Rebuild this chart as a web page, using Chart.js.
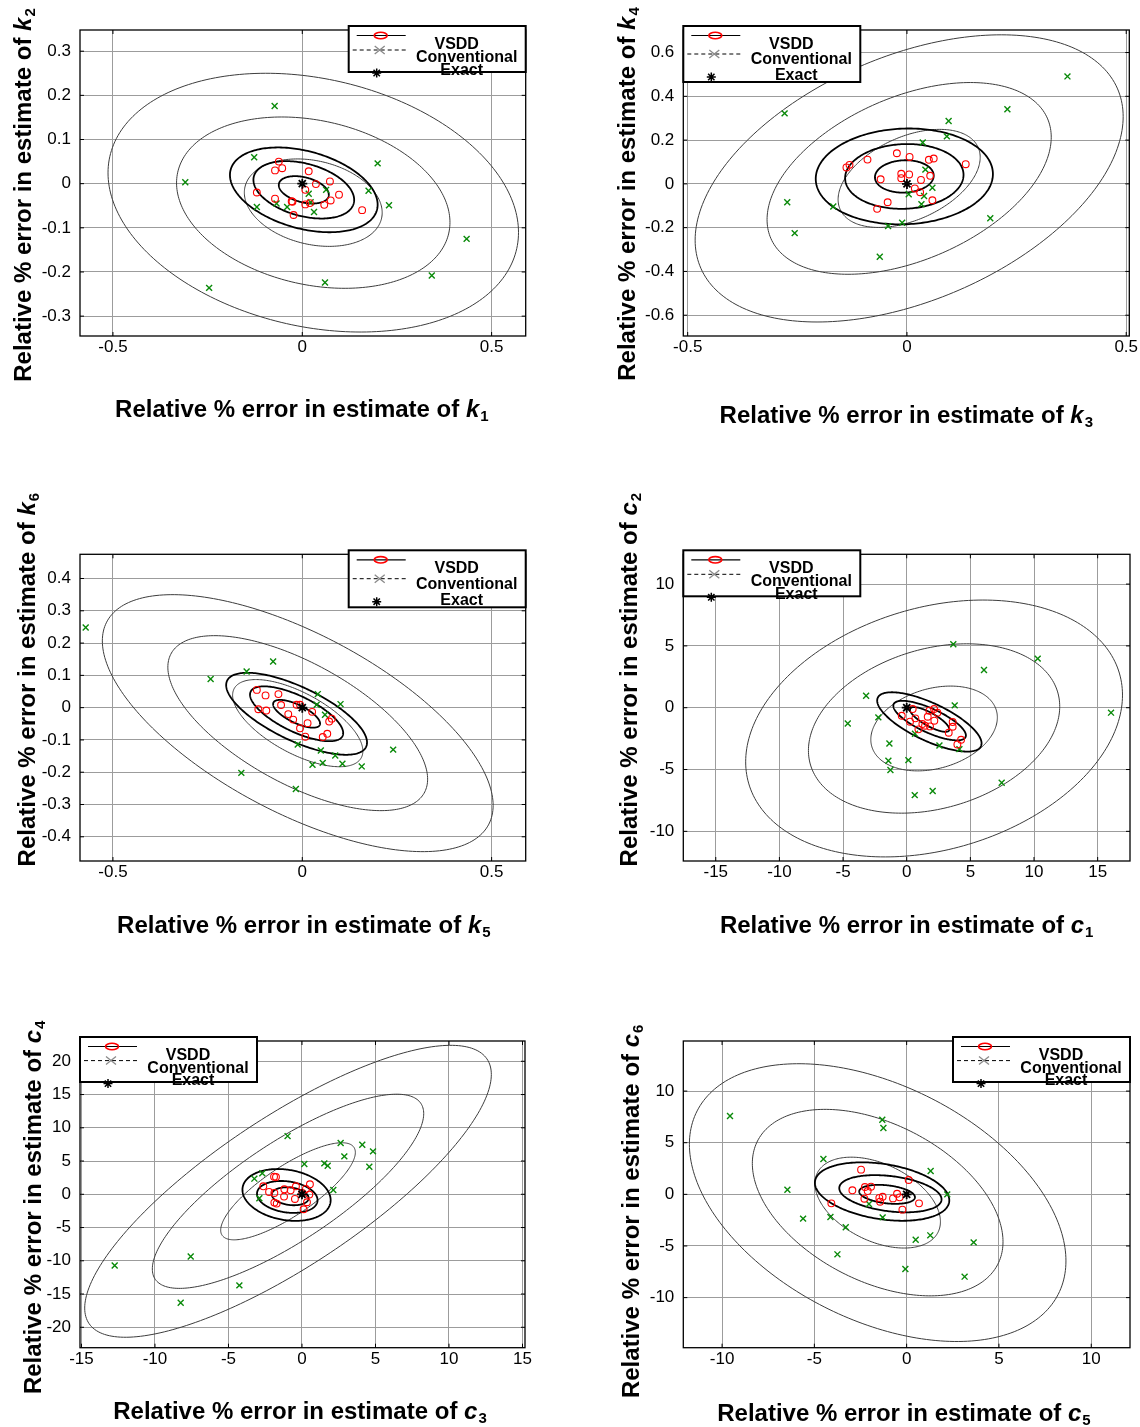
<!DOCTYPE html>
<html>
<head>
<meta charset="utf-8">
<title>Estimate error scatter</title>
<script src="https://cdn.jsdelivr.net/npm/chart.js@4.4.1/dist/chart.umd.min.js"></script>
<style>
  html, body { margin: 0; padding: 0; background: #fff; }
  #page { position: relative; width: 1140px; height: 1427px; overflow: hidden; }
  #page canvas { position: absolute; }
</style>
</head>
<body>
<div id="page"></div>
<script>
// ============================================================================
// DATA  (relative % errors; ellipses are [cx, cy, half-width x, half-height y, corr])
// ============================================================================

const exactPoint = [[0, 0]];

// --- k1 vs k2 ---
const k1Ticks = [-0.5, 0, 0.5];
const k2Ticks = [-0.3, -0.2, -0.1, 0, 0.1, 0.2, 0.3];
const vsddK1K2 = [[-0.062, 0.050], [-0.072, 0.030], [-0.053, 0.035], [0.017, 0.028], [0.036, -0.001],
  [0.073, 0.005], [0.008, -0.014], [-0.120, -0.020], [-0.072, -0.034], [-0.028, -0.040], [-0.026, -0.041],
  [-0.023, -0.071], [0.008, -0.047], [0.020, -0.044], [0.058, -0.048], [0.075, -0.038], [0.097, -0.025],
  [0.158, -0.060]];
const convK1K2 = [[-0.073, 0.176], [-0.127, 0.060], [-0.309, 0.003], [0.199, 0.046], [0.175, -0.016],
  [0.229, -0.049], [0.434, -0.125], [0.342, -0.208], [0.060, -0.224], [-0.246, -0.236], [-0.120, -0.053],
  [-0.068, -0.045], [-0.040, -0.053], [0.017, -0.023], [0.022, -0.042], [0.031, -0.064], [0.063, -0.014]];
const vsddEllK1K2 = [[0.004, -0.014, 0.066, 0.031, -0.35], [0.004, -0.014, 0.133, 0.065, -0.35], [0.004, -0.014, 0.195, 0.096, -0.35]];
const convEllK1K2 = [[0.029, -0.043, 0.182, 0.099, -0.23], [0.029, -0.043, 0.361, 0.194, -0.23], [0.029, -0.043, 0.542, 0.293, -0.23]];

// --- k3 vs k4 ---
const k3Ticks = [-0.5, 0, 0.5];
const k4Ticks = [-0.6, -0.4, -0.2, 0, 0.2, 0.4, 0.6];
const vsddK3K4 = [[-0.138, 0.075], [-0.131, 0.087], [-0.090, 0.111], [-0.023, 0.140], [0.006, 0.123],
  [0.050, 0.110], [0.061, 0.116], [0.134, 0.090], [-0.013, 0.046], [0.005, 0.043], [-0.013, 0.026],
  [-0.060, 0.021], [0.032, 0.018], [0.053, 0.037], [0.018, -0.021], [0.030, -0.038], [0.058, -0.075],
  [-0.044, -0.084], [-0.068, -0.114]];
const convK3K4 = [[-0.279, 0.322], [0.366, 0.491], [0.229, 0.341], [0.095, 0.287], [0.091, 0.217],
  [0.036, 0.189], [0.042, 0.065], [0.058, -0.018], [0.039, -0.055], [0.004, -0.047], [0.033, -0.093],
  [-0.273, -0.084], [-0.168, -0.103], [-0.256, -0.225], [-0.043, -0.193], [-0.011, -0.178], [0.190, -0.157],
  [-0.062, -0.333]];
const vsddEllK3K4 = [[-0.006, 0.034, 0.067, 0.074, 0.05], [-0.006, 0.034, 0.135, 0.148, 0.05], [-0.006, 0.034, 0.202, 0.219, 0.05]];
const convEllK3K4 = [[0.005, 0.025, 0.162, 0.224, 0.43], [0.005, 0.025, 0.324, 0.438, 0.43], [0.005, 0.025, 0.488, 0.656, 0.43]];

// --- k5 vs k6 ---
const k5Ticks = [-0.5, 0, 0.5];
const k6Ticks = [-0.4, -0.3, -0.2, -0.1, 0, 0.1, 0.2, 0.3, 0.4];
const vsddK5K6 = [[-0.120, 0.055], [-0.097, 0.038], [-0.063, 0.042], [-0.056, 0.008], [-0.116, -0.005],
  [-0.095, -0.009], [-0.015, 0.009], [-0.006, 0.009], [-0.037, -0.020], [-0.024, -0.037], [0.026, -0.013],
  [0.014, -0.048], [-0.006, -0.064], [0.008, -0.090], [0.054, -0.091], [0.066, -0.081], [0.071, -0.043],
  [0.078, -0.034]];
const convK5K6 = [[-0.572, 0.248], [-0.077, 0.143], [-0.147, 0.112], [-0.242, 0.089], [0.041, 0.042],
  [0.101, 0.011], [0.038, 0.009], [0.060, -0.022], [-0.012, -0.114], [0.049, -0.133], [0.087, -0.148],
  [0.240, -0.130], [0.027, -0.177], [0.054, -0.171], [0.106, -0.174], [0.157, -0.182], [-0.161, -0.202],
  [-0.017, -0.252]];
const vsddEllK5K6 = [[-0.015, -0.019, 0.062, 0.043, -0.7], [-0.015, -0.019, 0.123, 0.085, -0.7], [-0.015, -0.019, 0.186, 0.127, -0.7]];
const convEllK5K6 = [[-0.012, -0.048, 0.172, 0.135, -0.64], [-0.012, -0.048, 0.343, 0.271, -0.64], [-0.012, -0.048, 0.516, 0.398, -0.64]];

// --- c1 vs c2 ---
const c1Ticks = [-15, -10, -5, 0, 5, 10, 15];
const c2Ticks = [-10, -5, 0, 5, 10];
const vsddC1C2 = [[0.47, -0.11], [-0.39, -0.65], [0.68, -0.86], [0.26, -1.13], [1.23, -1.32], [1.44, -1.46],
  [0.92, -1.75], [1.65, -0.73], [1.78, -0.24], [2.15, -0.11], [2.41, -0.40], [2.17, -1.05], [1.83, -1.51],
  [3.61, -1.16], [3.61, -1.54], [3.30, -2.02], [4.27, -2.59], [3.98, -2.97]];
const convC1C2 = [[3.66, 5.13], [10.29, 3.97], [6.07, 3.05], [-3.19, 0.97], [3.77, 0.19], [-4.63, -1.27],
  [-2.23, -0.78], [16.05, -0.40], [0.65, -2.10], [-1.36, -2.89], [2.57, -3.05], [4.14, -3.35], [-1.44, -4.29],
  [0.13, -4.24], [-1.28, -5.04], [7.46, -6.07], [0.63, -7.07], [2.04, -6.74]];
const vsddEllC1C2 = [[1.8, -0.95, 1.55, 1.0, -0.8], [1.8, -1.04, 2.85, 1.6, -0.75], [1.78, -1.15, 4.1, 2.4, -0.72]];
const convEllC1C2 = [[2.15, -1.68, 4.97, 3.43, 0.26], [2.15, -1.68, 9.87, 6.85, 0.26], [2.15, -1.68, 14.8, 10.39, 0.26]];

// --- c3 vs c4 ---
const c3Ticks = [-15, -10, -5, 0, 5, 10, 15];
const c4Ticks = [-20, -15, -10, -5, 0, 5, 10, 15, 20];
const vsddC3C4 = [[-1.90, 2.65], [-1.77, 2.60], [-2.63, 1.20], [-2.24, 0.35], [-1.88, 0.20], [-1.20, 0.75],
  [-0.77, 0.60], [-0.41, 1.20], [-1.22, -0.35], [-0.48, -0.70], [-1.88, -1.25], [-1.72, -1.40], [0.11, -2.25],
  [0.34, -1.20], [0.50, -0.05], [0.27, 0.80], [0.54, 1.50], [0.02, 0.20]];
const convC3C4 = [[-0.98, 8.75], [2.63, 7.70], [4.10, 7.45], [4.83, 6.45], [2.88, 5.70], [0.16, 4.55],
  [1.52, 4.65], [1.75, 4.30], [4.58, 4.15], [-2.70, 3.15], [-3.24, 2.35], [2.13, 0.65], [-2.90, -0.60],
  [-7.57, -9.35], [-12.74, -10.70], [-4.26, -13.70], [-8.25, -16.30]];
const vsddEllC3C4 = [[-0.8, -0.3, 1.25, 1.35, -0.2], [-1.0, -0.4, 2.06, 2.4, -0.2], [-1.05, -0.1, 3.0, 3.9, -0.2]];
const convEllC3C4 = [[-0.95, 0.45, 4.58, 7.3, 0.8], [-0.95, 0.45, 9.23, 14.6, 0.8], [-0.95, 0.45, 13.83, 21.95, 0.8]];

// --- c5 vs c6 ---
const c5Ticks = [-10, -5, 0, 5, 10];
const c6Ticks = [-10, -5, 0, 5, 10];
const vsddC5C6 = [[-2.47, 2.39], [0.11, 1.39], [-2.94, 0.39], [-2.26, 0.71], [-1.93, 0.74], [-2.11, 0.32],
  [-2.29, -0.42], [-1.30, -0.23], [-1.48, -0.35], [-1.44, -0.71], [-0.74, -0.39], [-0.52, 0.06],
  [-0.38, -0.29], [-4.08, -0.87], [-0.23, -1.48], [0.67, -0.87]];
const convC5C6 = [[-9.57, 7.58], [-1.32, 7.23], [-1.26, 6.42], [-4.51, 3.42], [1.30, 2.26], [-6.46, 0.45],
  [2.20, 0.0], [-2.04, -0.94], [-1.30, -2.23], [-4.13, -2.19], [-5.61, -2.35], [-3.30, -3.19], [0.49, -4.39],
  [1.28, -3.97], [3.63, -4.65], [-3.75, -5.81], [-0.07, -7.23], [3.14, -7.97]];
const vsddEllC5C6 = [[-1.06, 0.0, 1.51, 0.92, -0.3], [-0.88, 0.06, 2.77, 1.8, -0.3], [-1.33, 0.27, 3.64, 2.83, -0.3]];
const convEllC5C6 = [[-1.57, -0.8, 3.4, 4.4, -0.42], [-1.57, -0.8, 6.79, 9.03, -0.42], [-1.57, -0.8, 10.2, 13.45, -0.42]];

// ============================================================================
// PANEL LAYOUT
// ============================================================================

const FONT = "'Liberation Sans', Arial, Helvetica, sans-serif";
const X_AXIS_H = 30;

const panels = [
  { box: [0, 0, 570, 460], plot: [80, 30, 525.7, 336], xRange: [-0.587, 0.59], yRange: [-0.345, 0.348],
    xTicks: k1Ticks, yTicks: k2Ticks, vsdd: vsddK1K2, conv: convK1K2, vsddEll: vsddEllK1K2, convEll: convEllK1K2,
    xName: ['k', '1'], yName: ['k', '2'], legend: { side: 'right', h: 46 },
    xTitle: { dx: -1, dy: 72 }, yTitle: { dx: -58, dy: 12 } },
  { box: [570, 0, 570, 460], plot: [683.3, 30, 1129.3, 336], xRange: [-0.51, 0.507], yRange: [-0.695, 0.703],
    xTicks: k3Ticks, yTicks: k4Ticks, vsdd: vsddK3K4, conv: convK3K4, vsddEll: vsddEllK3K4, convEll: convEllK3K4,
    xName: ['k', '3'], yName: ['k', '4'], legend: { side: 'left', h: 56 },
    xTitle: { dx: 0, dy: 78 }, yTitle: { dx: -57, dy: 11 } },
  { box: [0, 460, 570, 500], plot: [80, 554.3, 525.7, 861], xRange: [-0.587, 0.59], yRange: [-0.475, 0.475],
    xTicks: k5Ticks, yTicks: k6Ticks, vsdd: vsddK5K6, conv: convK5K6, vsddEll: vsddEllK5K6, convEll: convEllK5K6,
    xName: ['k', '5'], yName: ['k', '6'], legend: { side: 'right', h: 57 },
    xTitle: { dx: 1, dy: 63 }, yTitle: { dx: -54, dy: -28 } },
  { box: [570, 460, 570, 500], plot: [683.3, 554.3, 1130, 861], xRange: [-17.55, 17.54], yRange: [-12.4, 12.41],
    xTicks: c1Ticks, yTicks: c2Ticks, vsdd: vsddC1C2, conv: convC1C2, vsddEll: vsddEllC1C2, convEll: convEllC1C2,
    xName: ['c', '1'], yName: ['c', '2'], legend: { side: 'left', h: 46 },
    xTitle: { dx: 0, dy: 63 }, yTitle: { dx: -55, dy: -28 } },
  { box: [0, 960, 570, 467], plot: [80, 1041, 525, 1347.7], xRange: [-15.1, 15.17], yRange: [-23.07, 23.05],
    xTicks: c3Ticks, yTicks: c4Ticks, vsdd: vsddC3C4, conv: convC3C4, vsddEll: vsddEllC3C4, convEll: convEllC3C4,
    xName: ['c', '3'], yName: ['c', '4'], legend: { side: 'left', h: 45 },
    xTitle: { dx: -2.5, dy: 63 }, yTitle: { dx: -48, dy: 13 } },
  { box: [570, 960, 570, 467], plot: [683.3, 1041, 1130, 1347.7], xRange: [-12.1, 12.1], yRange: [-14.85, 14.85],
    xTicks: c5Ticks, yTicks: c6Ticks, vsdd: vsddC5C6, conv: convC5C6, vsddEll: vsddEllC5C6, convEll: convEllC5C6,
    xName: ['c', '5'], yName: ['c', '6'], legend: { side: 'right', h: 45 },
    xTitle: { dx: -2.7, dy: 65 }, yTitle: { dx: -53, dy: 17 } }
];

// ============================================================================
// DRAWING HELPERS
// ============================================================================

const toXY = arr => arr.map(([x, y]) => ({ x, y }));

function strokeEllipses(ctx, scales, list, color, width) {
  ctx.strokeStyle = color;
  ctx.lineWidth = width;
  for (const [cx, cy, w, h, r] of list) {
    const s = Math.sqrt(1 - r * r);
    ctx.beginPath();
    for (let i = 0; i <= 240; i++) {
      const t = (i / 240) * Math.PI * 2;
      const px = scales.x.getPixelForValue(cx + w * Math.cos(t));
      const py = scales.y.getPixelForValue(cy + h * (r * Math.cos(t) + s * Math.sin(t)));
      if (i === 0) ctx.moveTo(px, py); else ctx.lineTo(px, py);
    }
    ctx.closePath();
    ctx.stroke();
  }
}

function drawAxisTitle(ctx, cx, cy, name, sub, vertical) {
  const main = 'Relative % error in estimate of ';
  const mainFont = `bold 24px ${FONT}`;
  const nameFont = `italic bold 24px ${FONT}`;
  const subFont = `bold 15px ${FONT}`;
  ctx.save();
  ctx.font = mainFont; const w1 = ctx.measureText(main).width;
  ctx.font = nameFont; const w2 = ctx.measureText(name).width;
  ctx.font = subFont; const w3 = ctx.measureText(sub).width;
  const total = w1 + w2 + w3 + 1;
  ctx.translate(cx, cy);
  if (vertical) ctx.rotate(-Math.PI / 2);
  ctx.fillStyle = '#000';
  ctx.textAlign = 'left';
  ctx.textBaseline = 'alphabetic';
  const base = 8.5;
  let x = -total / 2;
  ctx.font = mainFont; ctx.fillText(main, x, base); x += w1;
  ctx.font = nameFont; ctx.fillText(name, x, base); x += w2 + 1;
  ctx.font = subFont; ctx.fillText(sub, x, base + 4);
  ctx.restore();
}

function drawLegend(ctx, L, T, H) {
  const W = 177;
  ctx.save();
  ctx.fillStyle = '#fff';
  ctx.fillRect(L, T, W, H);
  ctx.strokeStyle = '#000';
  ctx.lineWidth = 2;
  ctx.strokeRect(L, T, W, H);

  const extra = (H - 46) * 0.4;
  const r1 = T + 9.5, r2 = T + 24 + extra, r3 = T + 47 + extra;

  // VSDD: solid line with red circle
  ctx.lineWidth = 1.2;
  ctx.beginPath(); ctx.moveTo(L + 8, r1); ctx.lineTo(L + 57, r1); ctx.stroke();
  ctx.strokeStyle = '#ff0000';
  ctx.lineWidth = 1.6;
  ctx.beginPath(); ctx.ellipse(L + 32, r1, 6.5, 3.2, 0, 0, Math.PI * 2); ctx.stroke();

  // Conventional: dashed line with grey cross
  ctx.strokeStyle = '#000';
  ctx.lineWidth = 1;
  ctx.setLineDash([4, 3]);
  ctx.beginPath(); ctx.moveTo(L + 4, r2); ctx.lineTo(L + 58, r2); ctx.stroke();
  ctx.setLineDash([]);
  ctx.strokeStyle = '#8a8a8a';
  ctx.lineWidth = 1.3;
  ctx.beginPath(); ctx.moveTo(L + 26, r2 - 4); ctx.lineTo(L + 36, r2 + 4);
  ctx.moveTo(L + 36, r2 - 4); ctx.lineTo(L + 26, r2 + 4); ctx.stroke();

  // Exact: black star
  ctx.strokeStyle = '#000';
  ctx.lineWidth = 1.5;
  Chart.helpers.drawPoint(ctx, { pointStyle: 'star', radius: 4.5, rotation: 0, borderWidth: 1.5 }, L + 28, r3);

  ctx.fillStyle = '#000';
  ctx.font = `bold 16px ${FONT}`;
  ctx.textAlign = 'center';
  ctx.textBaseline = 'middle';
  const step = 0.25 * H + 1.5;
  ctx.fillText('VSDD', L + 108, T + 18.5);
  ctx.fillText('Conventional', L + 118, T + 18.5 + step);
  ctx.fillText('Exact', L + 113, T + 18.5 + 2 * step);
  ctx.restore();
}

// ============================================================================
// CHART BUILD
// ============================================================================

function buildPanel(p) {
  const [bx, by, bw, bh] = p.box;
  const [L, T, R, B] = p.plot;

  const canvas = document.createElement('canvas');
  canvas.width = bw;
  canvas.height = bh;
  canvas.style.left = bx + 'px';
  canvas.style.top = by + 'px';
  document.getElementById('page').appendChild(canvas);

  const ellipses = {
    id: 'ellipses',
    beforeDatasetsDraw(chart) {
      const { ctx, chartArea: a, scales } = chart;
      ctx.save();
      ctx.beginPath();
      ctx.rect(a.left, a.top, a.right - a.left, a.bottom - a.top);
      ctx.clip();
      strokeEllipses(ctx, scales, p.convEll, '#3c3c3c', 1);
      strokeEllipses(ctx, scales, p.vsddEll, '#000', 1.8);
      ctx.restore();
    }
  };

  const frame = {
    id: 'frame',
    afterDatasetsDraw(chart) {
      const { ctx, chartArea: a, scales } = chart;
      ctx.save();
      ctx.strokeStyle = '#000';
      ctx.lineWidth = 1;
      ctx.beginPath();
      for (const v of p.xTicks) {
        const px = scales.x.getPixelForValue(v);
        ctx.moveTo(px, a.bottom); ctx.lineTo(px, a.bottom - 4);
        ctx.moveTo(px, a.top); ctx.lineTo(px, a.top + 4);
      }
      for (const v of p.yTicks) {
        const py = scales.y.getPixelForValue(v);
        ctx.moveTo(a.left, py); ctx.lineTo(a.left + 4, py);
        ctx.moveTo(a.right, py); ctx.lineTo(a.right - 4, py);
      }
      ctx.stroke();
      ctx.lineWidth = 1.3;
      ctx.strokeRect(a.left, a.top, a.right - a.left, a.bottom - a.top);
      ctx.restore();
    },
    afterDraw(chart) {
      const { ctx, chartArea: a } = chart;
      const lx = p.legend.side === 'right' ? a.right - 177 : a.left;
      drawLegend(ctx, lx, a.top - 4, p.legend.h);
      drawAxisTitle(ctx, (a.left + a.right) / 2 + p.xTitle.dx, a.bottom + p.xTitle.dy, p.xName[0], p.xName[1], false);
      drawAxisTitle(ctx, a.left + p.yTitle.dx, (a.top + a.bottom) / 2 + p.yTitle.dy, p.yName[0], p.yName[1], true);
    }
  };

  const tickFont = { family: FONT, size: 17 };

  return new Chart(canvas, {
    type: 'scatter',
    data: {
      datasets: [
        { label: 'Exact', data: toXY(exactPoint), pointStyle: 'star', pointRadius: 5,
          borderColor: '#000', backgroundColor: '#000', borderWidth: 1.8 },
        { label: 'VSDD', data: toXY(p.vsdd), pointStyle: 'circle', pointRadius: 3.4,
          borderColor: '#ff0000', backgroundColor: 'rgba(0,0,0,0)', borderWidth: 1.1 },
        { label: 'Conventional', data: toXY(p.conv), pointStyle: 'crossRot', pointRadius: 4.2,
          borderColor: '#0a8a0a', backgroundColor: '#0a8a0a', borderWidth: 1.4 }
      ]
    },
    options: {
      responsive: false,
      animation: false,
      events: [],
      layout: { padding: { left: 0, top: T - by, right: bx + bw - R, bottom: by + bh - B - X_AXIS_H } },
      scales: {
        x: {
          type: 'linear', min: p.xRange[0], max: p.xRange[1],
          afterBuildTicks: s => { s.ticks = p.xTicks.map(v => ({ value: v })); },
          afterFit: s => { s.height = X_AXIS_H; s.paddingLeft = 0; s.paddingRight = 0; },
          grid: { color: '#9c9c9c', lineWidth: 1, drawTicks: false },
          border: { display: false },
          ticks: { padding: 1, color: '#000', font: tickFont, autoSkip: false, maxRotation: 0,
                   callback: v => String(v) }
        },
        y: {
          type: 'linear', min: p.yRange[0], max: p.yRange[1],
          afterBuildTicks: s => { s.ticks = p.yTicks.map(v => ({ value: v })); },
          afterFit: s => { s.width = L - bx; s.paddingTop = 0; s.paddingBottom = 0; },
          grid: { color: '#9c9c9c', lineWidth: 1, drawTicks: false },
          border: { display: false },
          ticks: { padding: 9, color: '#000', font: tickFont, autoSkip: false,
                   callback: v => String(v) }
        }
      },
      plugins: { legend: { display: false }, tooltip: { enabled: false } }
    },
    plugins: [ellipses, frame]
  });
}

panels.forEach(buildPanel);
</script>
</body>
</html>
